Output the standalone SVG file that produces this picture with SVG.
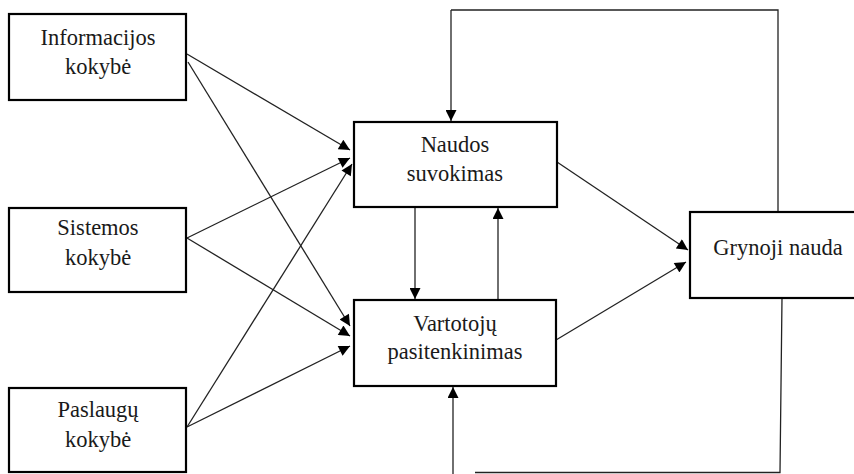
<svg xmlns="http://www.w3.org/2000/svg" width="854" height="474" viewBox="0 0 854 474">
<style>
.box{fill:#fff;stroke:#000;stroke-width:2.2}
.t{font-family:'Liberation Serif','Times New Roman','DejaVu Serif',serif;font-size:22.5px;fill:#1a1a1a;text-anchor:middle}
.c{fill:none;stroke:#222;stroke-width:1.3}
.a{marker-end:url(#ah)}
</style>
<defs>
<marker id="ah" viewBox="0 0 10 10" refX="10" refY="5" markerWidth="13" markerHeight="11" markerUnits="userSpaceOnUse" orient="auto">
<path d="M0,0 L10,5 L0,10 z" fill="#000"/>
</marker>
</defs>
<rect width="854" height="474" fill="#fff"/>
<g id="connectors">
<line class="c a" x1="187" y1="54" x2="350" y2="150"/>
<line class="c a" x1="188" y1="62" x2="350" y2="326"/>
<line class="c a" x1="187" y1="238" x2="350" y2="158"/>
<line class="c a" x1="187" y1="238" x2="350" y2="336"/>
<line class="c a" x1="187" y1="427" x2="352" y2="164"/>
<line class="c a" x1="187" y1="427" x2="350" y2="346"/>
<line class="c a" x1="415" y1="208" x2="415" y2="299"/>
<line class="c a" x1="498" y1="299" x2="498" y2="208"/>
<line class="c a" x1="557" y1="162" x2="688" y2="250"/>
<line class="c a" x1="556" y1="340" x2="686" y2="262"/>
<polyline class="c" points="778,212 778,10 451,10"/>
<line class="c a" x1="451" y1="10" x2="451" y2="121"/>
<polyline class="c" points="782,298 780,472.5 475,472.5"/>
<line class="c a" x1="453" y1="474" x2="453" y2="387"/>
</g>
<g id="informacijos">
<rect class="box" x="9" y="14" width="177" height="86"/>
<text class="t" font-family="Liberation Serif, serif" x="98" y="45">Informacijos</text>
<text class="t" font-family="Liberation Serif, serif" x="98" y="74">kokybė</text>
</g>
<g id="sistemos">
<rect class="box" x="9" y="208" width="177" height="84"/>
<text class="t" x="98" y="235">Sistemos</text>
<text class="t" x="98" y="265">kokybė</text>
</g>
<g id="paslaugu">
<rect class="box" x="9" y="388" width="177" height="84"/>
<text class="t" x="98" y="417">Paslaugų</text>
<text class="t" x="98" y="447">kokybė</text>
</g>
<g id="naudos">
<rect class="box" x="354" y="122" width="203" height="85"/>
<text class="t" x="455" y="152">Naudos</text>
<text class="t" x="455" y="181">suvokimas</text>
</g>
<g id="vartotoju">
<rect class="box" x="354" y="300" width="202" height="86"/>
<text class="t" x="455" y="331">Vartotojų</text>
<text class="t" x="455" y="359">pasitenkinimas</text>
</g>
<g id="grynoji">
<rect class="box" x="690" y="212" width="168" height="86"/>
<text class="t" x="778" y="255">Grynoji nauda</text>
</g>
</svg>
